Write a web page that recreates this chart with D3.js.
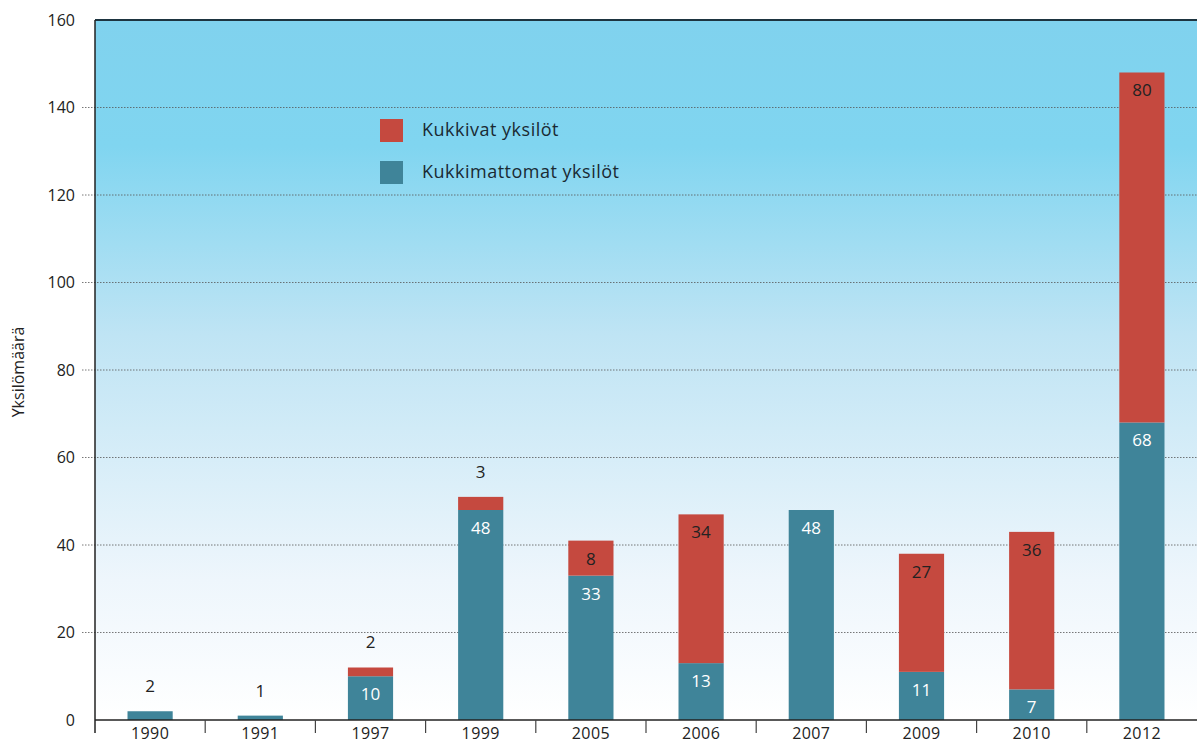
<!DOCTYPE html>
<html>
<head>
<meta charset="utf-8">
<script src="https://cdn.jsdelivr.net/npm/d3@7"></script>
<style>
    body { margin: 0; background: #fff; }
    svg { display: block; font-family: "Open Sans", "DejaVu Sans", sans-serif; }
</style>
</head>
<body>
<div class="chart"></div>
<script>
const years = ["1990", "1991", "1997", "1999", "2005", "2006", "2007", "2009", "2010", "2012"];
const nonFlowering = [2, 1, 10, 48, 33, 13, 48, 11, 7, 68];
const flowering = [0, 0, 2, 3, 8, 34, 0, 27, 36, 80];
const yTicks = [0, 20, 40, 60, 80, 100, 120, 140, 160];
const seriesNames = ["Kukkivat yksilöt", "Kukkimattomat yksilöt"];
const yTitle = "Yksilömäärä";

const blue = "#3f8499", red = "#c5493f";

const margin = ({top: 20, right: 0, bottom: 24, left: 95});
const width = 1197 - margin.left - margin.right,
    height = 744 - margin.top - margin.bottom;

const svgRoot = d3.select(".chart").append("svg")
    .attr("width", 1197)
    .attr("height", 744);

// background gradient
const defs = svgRoot.append("defs");
const grad = defs.append("linearGradient")
    .attr("id", "bg").attr("x1", 0).attr("y1", 0).attr("x2", 0).attr("y2", 1);
grad.append("stop").attr("offset", "0%").attr("stop-color", "#80d2ee");
grad.append("stop").attr("offset", "18%").attr("stop-color", "#80d5f0");
grad.append("stop").attr("offset", "45%").attr("stop-color", "#bfe4f4");
grad.append("stop").attr("offset", "80%").attr("stop-color", "#eef6fc");
grad.append("stop").attr("offset", "100%").attr("stop-color", "#ffffff");

const svg = svgRoot.append("g")
    .attr("transform", "translate(" + margin.left + "," + margin.top + ")");

const xScale = d3.scaleBand().domain(years).range([0, width]).paddingInner(0.59).paddingOuter(0.295);
const xBounds = d3.scaleBand().domain(years).range([0, width]);
const yScale = d3.scaleLinear().domain([0, 160]).range([height, 0]);

svg.append("rect")
    .attr("width", width).attr("height", height)
    .attr("fill", "url(#bg)");

// grid lines
svg.append("g").selectAll("line")
    .data(yTicks.filter(d => d > 0 && d < 160))
    .join("line")
    .attr("x1", -13).attr("x2", width)
    .attr("y1", d => yScale(d)).attr("y2", d => yScale(d))
    .attr("stroke", "#555").attr("stroke-width", 0.8)
    .attr("stroke-dasharray", "1.5,1.5");

// y axis labels
svg.append("g").selectAll("text")
    .data(yTicks)
    .join("text")
    .attr("x", -20).attr("y", d => yScale(d))
    .attr("dy", "0.35em")
    .attr("text-anchor", "end")
    .attr("font-size", 16).attr("fill", "#222")
    .text(d => d);

svg.append("text")
    .attr("transform", "translate(-77," + (height / 2 + 2) + ") rotate(-90)")
    .attr("text-anchor", "middle")
    .attr("dy", "0.35em")
    .attr("font-size", 16).attr("fill", "#222")
    .text(yTitle);

// bars
const data = years.map((y, i) => ({year: y, blue: nonFlowering[i], red: flowering[i]}));

svg.append("g").selectAll("rect")
    .data(data)
    .join("rect")
    .attr("x", d => xScale(d.year)).attr("width", xScale.bandwidth())
    .attr("y", d => yScale(d.blue))
    .attr("height", d => height - yScale(d.blue))
    .attr("fill", blue);

svg.append("g").selectAll("rect")
    .data(data.filter(d => d.red > 0))
    .join("rect")
    .attr("x", d => xScale(d.year)).attr("width", xScale.bandwidth())
    .attr("y", d => yScale(d.blue + d.red))
    .attr("height", d => yScale(d.blue) - yScale(d.blue + d.red))
    .attr("fill", red);

// value labels
const labels = [];
data.forEach(d => {
    const cx = xScale(d.year) + xScale.bandwidth() / 2;
    const top = yScale(d.blue + d.red);
    if (d.blue > 0) {
        if (d.blue < 5) labels.push({x: cx, y: top - 25, t: d.blue, c: "#222"});
        else labels.push({x: cx, y: yScale(d.blue) + 18, t: d.blue, c: "#fff"});
    }
    if (d.red > 0) {
        if (d.red < 5) labels.push({x: cx, y: top - 25, t: d.red, c: "#222"});
        else labels.push({x: cx, y: top + 18, t: d.red, c: "#222"});
    }
});

svg.append("g").selectAll("text")
    .data(labels)
    .join("text")
    .attr("x", d => d.x).attr("y", d => d.y)
    .attr("dy", "0.35em")
    .attr("text-anchor", "middle")
    .attr("font-size", 17).attr("fill", d => d.c)
    .text(d => d.t);

// axes frame
svg.append("line").attr("x1", 0).attr("x2", width).attr("y1", 0).attr("y2", 0)
    .attr("stroke", "#1d3440").attr("stroke-width", 2);
svg.append("line").attr("x1", 0).attr("x2", 0).attr("y1", 0).attr("y2", height + 13)
    .attr("stroke", "#222").attr("stroke-width", 1.5);
svg.append("line").attr("x1", 0).attr("x2", width).attr("y1", height).attr("y2", height)
    .attr("stroke", "#222").attr("stroke-width", 1.5);

// x ticks at band boundaries
svg.append("g").selectAll("line")
    .data(years.slice(1))
    .join("line")
    .attr("x1", d => xBounds(d)).attr("x2", d => xBounds(d))
    .attr("y1", height).attr("y2", height + 13)
    .attr("stroke", "#444").attr("stroke-width", 1.2);

svg.append("g").selectAll("text")
    .data(years)
    .join("text")
    .attr("x", d => xBounds(d) + xBounds.bandwidth() / 2)
    .attr("y", height + 19)
    .attr("text-anchor", "middle")
    .attr("font-size", 16).attr("letter-spacing", 0.4).attr("fill", "#222")
    .text(d => d);

// legend
const legend = svg.append("g").attr("transform", "translate(285,99)");
const legendItems = [{name: seriesNames[0], color: red}, {name: seriesNames[1], color: blue}];
legend.selectAll("rect")
    .data(legendItems)
    .join("rect")
    .attr("x", 0).attr("y", (d, i) => i * 42)
    .attr("width", 23).attr("height", 23)
    .attr("fill", d => d.color);
legend.selectAll("text")
    .data(legendItems)
    .join("text")
    .attr("x", 42).attr("y", (d, i) => i * 42 + 11)
    .attr("dy", "0.35em")
    .attr("font-size", 18).attr("letter-spacing", 0.5).attr("fill", "#1a2a33")
    .text(d => d.name);
</script>
</body>
</html>
